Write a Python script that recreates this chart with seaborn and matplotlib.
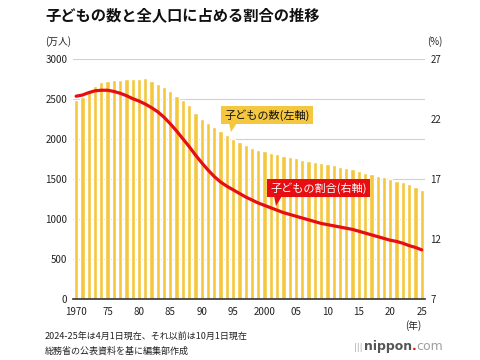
import seaborn as sns
import matplotlib.pyplot as plt
import pandas as pd
from matplotlib.patches import Polygon

# 子どもの数 (万人) と 総人口に占める割合 (%)
years = list(range(1970, 2026))
children = [2482, 2529, 2604, 2663, 2710, 2722, 2735, 2741, 2751, 2751,
            2751, 2760, 2725, 2688, 2655, 2603, 2543, 2483, 2422, 2320,
            2249, 2200, 2150, 2099, 2047, 2001, 1962, 1925, 1888, 1862,
            1847, 1828, 1810, 1791, 1773, 1759, 1744, 1730, 1718, 1701,
            1684, 1671, 1655, 1639, 1623, 1595, 1578, 1559, 1542, 1521,
            1503, 1478, 1465, 1435, 1401, 1366]
ratio = [23.9, 24.0, 24.2, 24.35, 24.4, 24.4, 24.3, 24.15, 23.95, 23.7,
         23.5, 23.25, 22.95, 22.6, 22.15, 21.6, 21.0, 20.35, 19.7, 19.0,
         18.35, 17.75, 17.2, 16.75, 16.4, 16.1, 15.8, 15.5, 15.25, 15.0,
         14.8, 14.6, 14.4, 14.2, 14.05, 13.9, 13.75, 13.6, 13.45, 13.3,
         13.2, 13.1, 13.0, 12.9, 12.8, 12.65, 12.5, 12.35, 12.2, 12.05,
         11.9, 11.8, 11.65, 11.45, 11.3, 11.1]
xticks = [1970, 1975, 1980, 1985, 1990, 1995, 2000, 2005, 2010, 2015, 2020, 2025]
xticklabels = ['1970', '75', '80', '85', '90', '95', '2000', '05', '10', '15', '20', '25']
left_ticks = [0, 500, 1000, 1500, 2000, 2500, 3000]
right_ticks = [7, 12, 17, 22, 27]

YELLOW = '#F5C73E'
RED = '#E60E12'

sns.set_theme(style='white')
plt.rcParams['font.family'] = ['Noto Sans CJK JP', 'DejaVu Sans']

df = pd.DataFrame({'year': years, 'children': children, 'ratio': ratio})

fig = plt.figure(figsize=(4.8, 3.6), dpi=100)
ax = fig.add_axes([0.152, 0.1694, 0.733, 0.6666])

sns.barplot(data=df, x='year', y='children', native_scale=True, width=0.68,
            color=YELLOW, saturation=1, ax=ax, zorder=2)
ax.set_xlim(1969.5, 2025.5)
ax.set_ylim(0, 3000)
ax.set_yticks(left_ticks)
ax.set_xticks(xticks)
ax.set_xticklabels(xticklabels)
ax.set_xlabel('')
ax.set_ylabel('')
ax.grid(axis='y', color='#d0d0d0', linewidth=0.8, zorder=0)
ax.set_axisbelow(True)
for s in ['left', 'right', 'top']:
    ax.spines[s].set_visible(False)
ax.spines['bottom'].set_color('#333333')
ax.spines['bottom'].set_linewidth(1.2)
ax.tick_params(axis='both', length=0, labelsize=7, colors='#222222')
ax.tick_params(axis='x', pad=6)
ax.tick_params(axis='y', pad=4)

ax2 = ax.twinx()
sns.lineplot(data=df, x='year', y='ratio', color=RED, linewidth=2.3, ax=ax2)
ax2.set_ylim(7, 27)
ax2.set_yticks(right_ticks)
ax2.set_ylabel('')
ax2.set_xlabel('')
for s in ['left', 'right', 'top', 'bottom']:
    ax2.spines[s].set_visible(False)
ax2.tick_params(axis='y', length=0, labelsize=7, colors='#222222', pad=4)
ax2.grid(False)

# callouts
fig.text(224 / 480, 1 - 115 / 360, '子どもの数(左軸)', fontsize=8, color='#111111',
         va='center', ha='left',
         bbox=dict(boxstyle='square,pad=0.3', fc=YELLOW, ec='none'))
fig.patches.append(Polygon([(229 / 480, 1 - 123 / 360), (237 / 480, 1 - 123 / 360),
                            (231 / 480, 1 - 132 / 360)], closed=True,
                           transform=fig.transFigure, fc=YELLOW, ec='none'))
fig.text(270 / 480, 1 - 188 / 360, '子どもの割合(右軸)', fontsize=8, color='white',
         va='center', ha='left',
         bbox=dict(boxstyle='square,pad=0.3', fc=RED, ec='none'))
fig.patches.append(Polygon([(274 / 480, 1 - 196 / 360), (282 / 480, 1 - 196 / 360),
                            (276 / 480, 1 - 206 / 360)], closed=True,
                           transform=fig.transFigure, fc=RED, ec='none'))

# titles and notes
fig.text(45 / 480, 1 - 15 / 360, '子どもの数と全人口に占める割合の推移', fontsize=11,
         fontweight='bold', va='center', ha='left', color='#111111')
fig.text(45 / 480, 1 - 42 / 360, '(万人)', fontsize=7, va='center', ha='left', color='#222222')
fig.text(443 / 480, 1 - 42 / 360, '(%)', fontsize=7, va='center', ha='right', color='#222222')
fig.text(413 / 480, 1 - 326 / 360, '(年)', fontsize=7, va='center', ha='center', color='#222222')
fig.text(45 / 480, 1 - 337 / 360, '2024-25年は4月1日現在、それ以前は10月1日現在', fontsize=6.5,
         va='center', ha='left', color='#222222')
fig.text(45 / 480, 1 - 351 / 360, '総務省の公表資料を基に編集部作成', fontsize=6.5,
         va='center', ha='left', color='#222222')

# logo: pieces placed one after another
renderer = fig.canvas.get_renderer()
x0 = 354 / 480
y0 = 1 - 350 / 360
parts = [('|||', '#b0b0b0', 'normal', 6, 1), ('nippon', '#555555', 'bold', 9, 0),
         ('.', RED, 'bold', 9, 0), ('com', '#a0a0a0', 'normal', 9, 0)]
for txt, col, wt, fs, gap in parts:
    t = fig.text(x0, y0, txt, fontsize=fs, fontweight=wt, color=col,
                 va='baseline', ha='left', family='DejaVu Sans')
    w = t.get_window_extent(renderer=renderer).width
    x0 += (w + gap) / fig.bbox.width

fig.savefig('out.png', dpi=100)
